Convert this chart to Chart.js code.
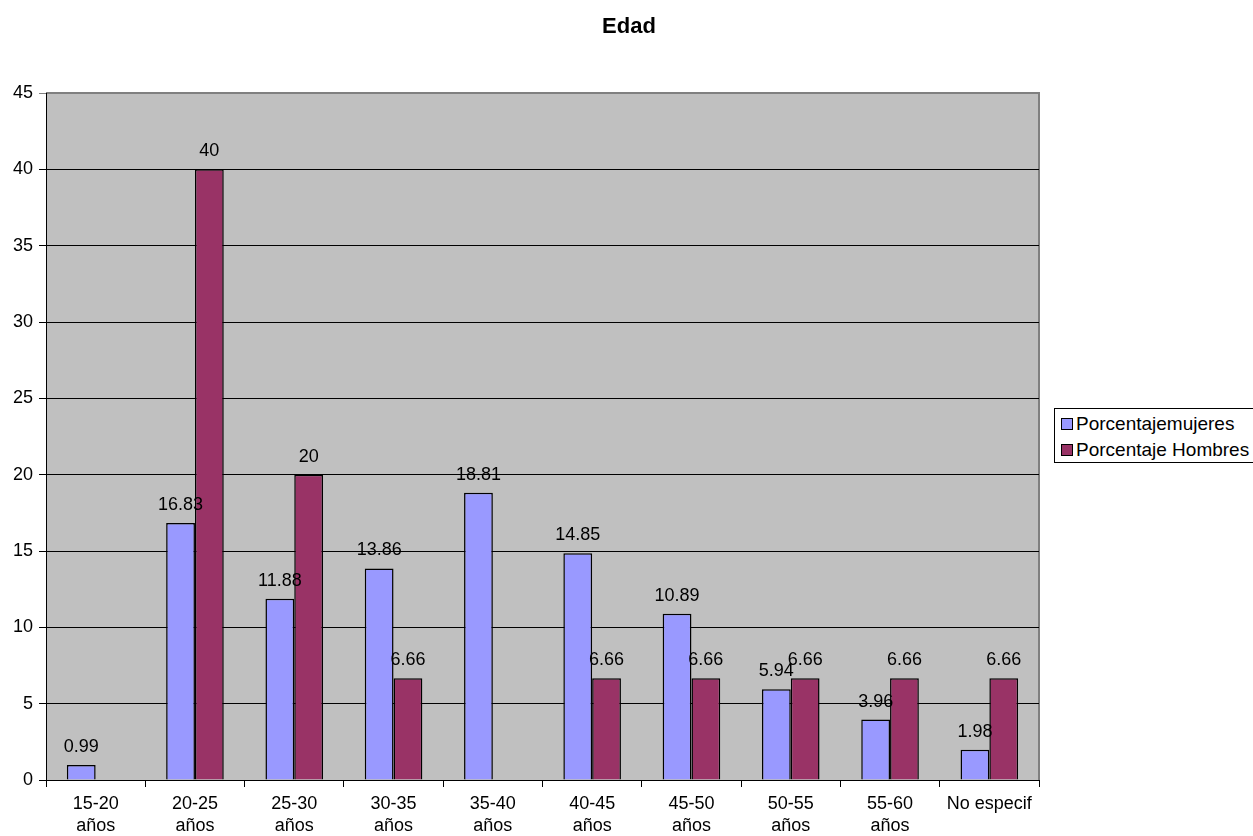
<!DOCTYPE html>
<html>
<head>
<meta charset="utf-8">
<script src="https://cdn.jsdelivr.net/npm/chart.js@4"></script>
<style>
  body { margin: 0; background: #fff; }
  #wrap { position: relative; width: 1253px; height: 836px; overflow: hidden; }
  #legend {
    position: absolute; left: 1054px; top: 408px; width: 230px; height: 55px;
    border: 1px solid #000; box-sizing: border-box; background: #fff;
    font: 19px "Liberation Sans", Arial, sans-serif; color: #000;
    padding-top: 2px;
  }
  #legend div { height: 26px; line-height: 26px; padding-left: 6px; white-space: nowrap; }
  #legend span {
    display: inline-block; width: 10px; height: 10px; border: 1px solid #000;
    margin-right: 3px; vertical-align: 0px;
  }
</style>
</head>
<body>
<div id="wrap">
  <canvas id="edadChart" width="1253" height="836"></canvas>
  <div id="legend"></div>
</div>
<script>
// data
var categorias = [['15-20', 'años'], ['20-25', 'años'], ['25-30', 'años'], ['30-35', 'años'], ['35-40', 'años'],
                  ['40-45', 'años'], ['45-50', 'años'], ['50-55', 'años'], ['55-60', 'años'], 'No especif'];
var porcentajeMujeres = [0.99, 16.83, 11.88, 13.86, 18.81, 14.85, 10.89, 5.94, 3.96, 1.98];
var porcentajeHombres = [null, 40, 20, 6.66, null, 6.66, 6.66, 6.66, 6.66, 6.66];
var nombresSeries = ['Porcentajemujeres', 'Porcentaje Hombres'];
var coloresSeries = ['#9999FF', '#993366'];

var fuente = '"Liberation Sans", Arial, sans-serif';

// gray plot area + title + value labels
var fondoPlugin = {
    id: 'fondo',
    beforeDraw: function (chart) {
        var a = chart.chartArea, ctx = chart.ctx;
        ctx.save();
        ctx.fillStyle = '#C0C0C0';
        ctx.fillRect(a.left, a.top, a.right - a.left, a.bottom - a.top);
        ctx.strokeStyle = '#808080';
        ctx.lineWidth = 2;
        ctx.beginPath();
        ctx.moveTo(a.left, a.top);
        ctx.lineTo(a.right, a.top);
        ctx.lineTo(a.right, a.bottom);
        ctx.stroke();
        ctx.fillStyle = '#000';
        ctx.font = 'bold 22px ' + fuente;
        ctx.textAlign = 'center';
        ctx.textBaseline = 'alphabetic';
        ctx.fillText('Edad', 629, 33);
        ctx.restore();
    },
    afterDatasetsDraw: function (chart) {
        var ctx = chart.ctx;
        ctx.save();
        ctx.fillStyle = '#000';
        ctx.font = '18px ' + fuente;
        ctx.textAlign = 'center';
        ctx.textBaseline = 'alphabetic';
        chart.data.datasets.forEach(function (ds, i) {
            chart.getDatasetMeta(i).data.forEach(function (bar, j) {
                var v = ds.data[j];
                if (v === null) return;
                ctx.fillText(String(v), bar.x, bar.y - 13);
            });
        });
        ctx.restore();
    }
};

var chart = new Chart(document.getElementById('edadChart').getContext('2d'), {
    type: 'bar',
    data: {
        labels: categorias,
        datasets: [{
            label: nombresSeries[0],
            data: porcentajeMujeres,
            backgroundColor: coloresSeries[0],
            borderColor: '#000',
            borderWidth: 1.5
        }, {
            label: nombresSeries[1],
            data: porcentajeHombres,
            backgroundColor: coloresSeries[1],
            borderColor: '#000',
            borderWidth: 1.5
        }]
    },
    options: {
        responsive: false,
        animation: false,
        layout: { padding: { top: 93, right: 214, left: 0, bottom: 0 } },
        categoryPercentage: 0.58,
        barPercentage: 1,
        plugins: {
            legend: { display: false },
            title: { display: false },
            tooltip: { enabled: false }
        },
        scales: {
            x: {
                afterFit: function (s) { s.height = 56; },
                grid: { drawOnChartArea: false, tickLength: 7, color: '#000' },
                border: { color: '#000', width: 1 },
                ticks: { color: '#000', font: { family: fuente, size: 18, lineHeight: 1.17 }, padding: 7, maxRotation: 0, autoSkip: false }
            },
            y: {
                min: 0, max: 45,
                afterFit: function (s) { s.width = 46; },
                grid: {
                    tickLength: 7,
                    color: function (c) { return c.tick && c.tick.value === 45 ? '#808080' : '#000'; }
                },
                border: { color: '#000', width: 1 },
                ticks: { stepSize: 5, color: '#000', font: { family: fuente, size: 18 }, padding: 6 }
            }
        }
    },
    plugins: [fondoPlugin]
});

// legend box on the right
var leg = document.getElementById('legend');
nombresSeries.forEach(function (n, i) {
    var d = document.createElement('div');
    d.innerHTML = '<span style="background:' + coloresSeries[i] + '"></span>' + n;
    leg.appendChild(d);
});
</script>
</body>
</html>
